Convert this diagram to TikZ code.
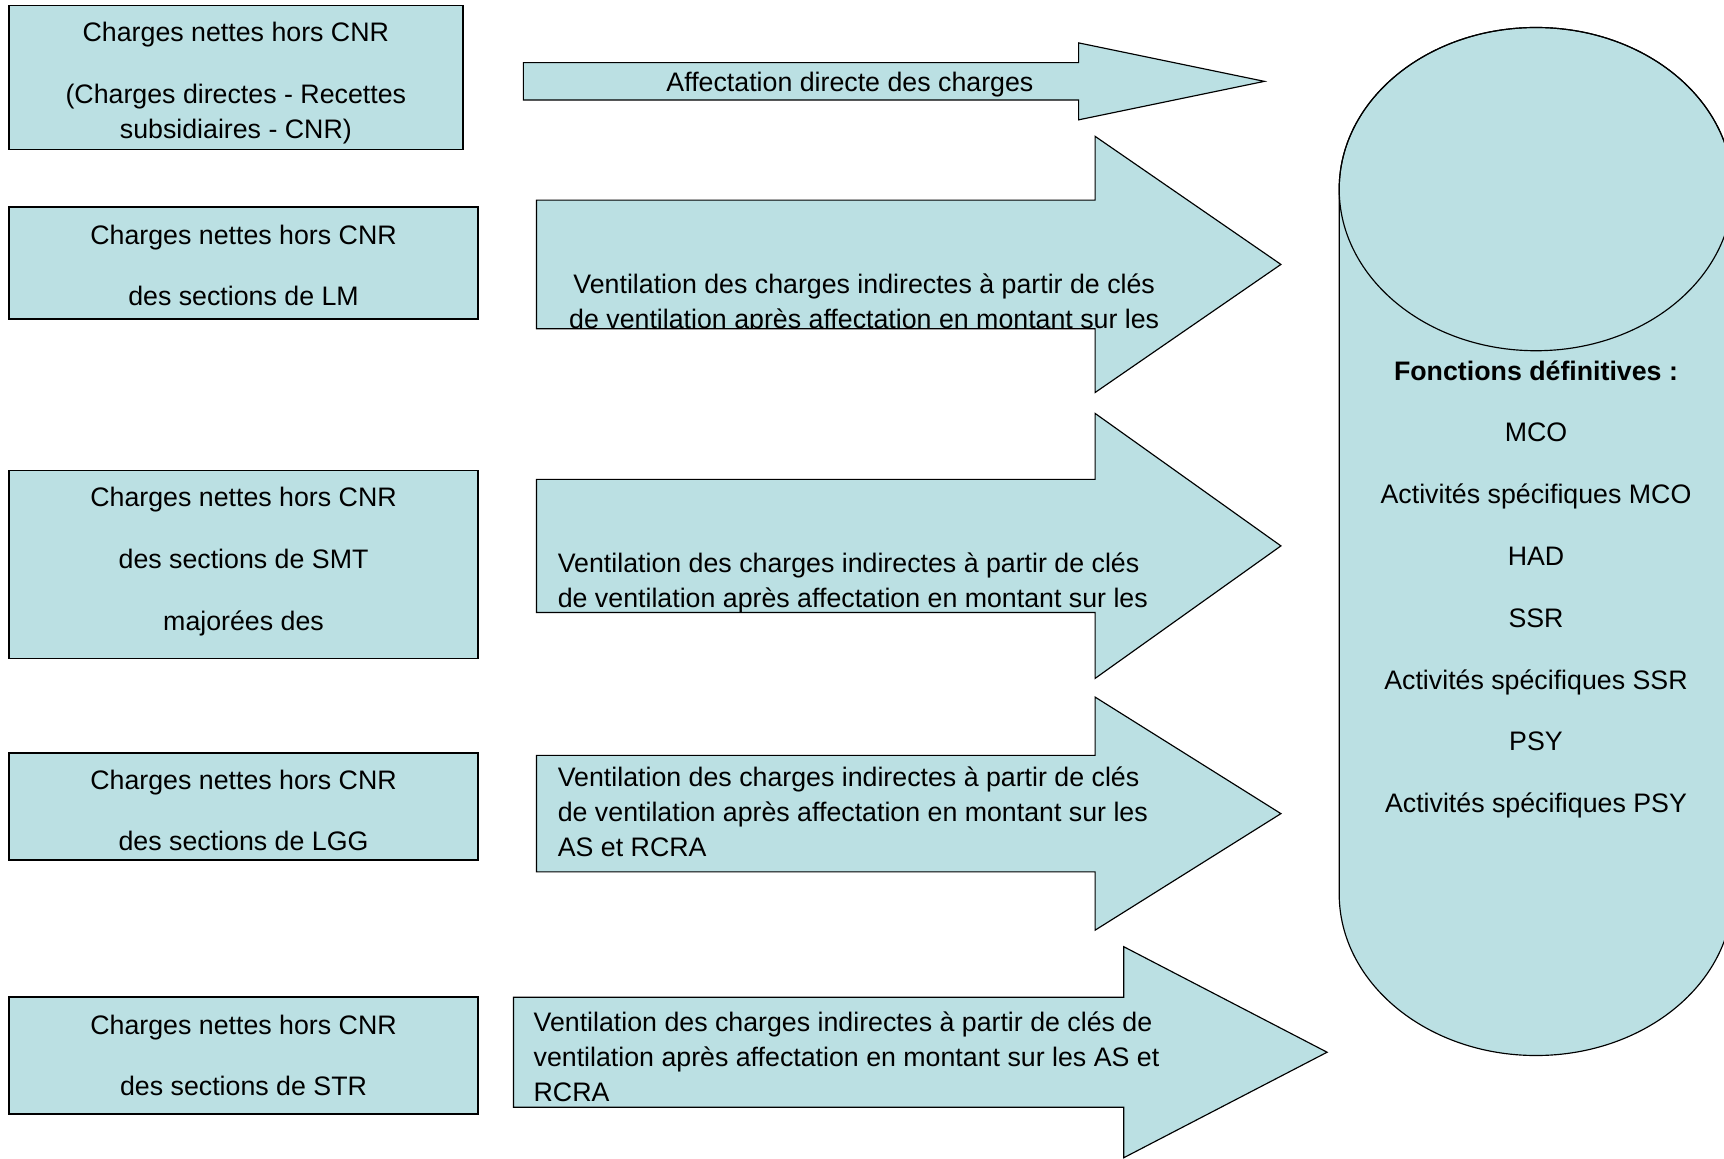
\documentclass[tikz,border=0pt]{standalone}
\usepackage{fontspec}
\setmainfont{Liberation Sans}
\usepackage{xcolor}
\definecolor{bleupale}{RGB}{187,224,227}

\begin{document}
\begin{tikzpicture}[
  x=0.02cm, y=0.02cm,
  txt/.style={font=\fontsize{13.85}{18.1}\selectfont, inner sep=0pt},
  charge/.style={draw, line width=0.9pt, fill=bleupale, minimum width=8.54cm},
  fleche/.style={draw, line width=0.6pt, fill=bleupale, line join=miter}
]
\useasboundingbox (0,0) rectangle (1568,-1054);
\clip (0,0) rectangle (1568,-1054);

\node[charge, minimum width=8.26cm, minimum height=2.62cm] (lm0) at (214.5,-70.5) {};
\node[charge, minimum height=2.04cm] (lm) at (221.5,-239) {};
\node[charge, minimum height=3.42cm] (smt) at (221.5,-513.5) {};
\node[charge, minimum height=1.94cm] (lgg) at (221.5,-733.5) {};
\node[charge, minimum height=2.12cm] (str) at (221.5,-960) {};
\node[txt, align=center] (lm0t) at ([yshift=-2.8pt]lm0.center) {Charges nettes hors CNR\\[13.9pt](Charges directes - Recettes\\subsidiaires - CNR)};
\node[txt, align=center] (lmt) at ([yshift=-1.4pt]lm.center) {Charges nettes hors CNR\\[13.9pt]des sections de LM};
\node[txt, align=center] (smtt) at ([yshift=1.4pt]smt.center) {Charges nettes hors CNR\\[13.9pt]des sections de SMT\\[13.9pt]majorées des};
\node[txt, align=center] (lggt) at ([yshift=-2pt]lgg.center) {Charges nettes hors CNR\\[13.9pt]des sections de LGG};
\node[txt, align=center] (strt) at (str.center) {Charges nettes hors CNR\\[13.9pt]des sections de STR};

\foreach \xa/\xb/\yt/\yb/\hh/\xt in {476/981/57/91/39/1150, 488/996/182/299/124/1165, 488/996/436/557/376/1165, 488/996/687/793/634/1165, 467/1022/907/1007/861/1207}{
  \pgfmathsetmacro\ym{(\yt+\yb)/2}
  \draw[fleche] (\xa,-\yt) -- (\xb,-\yt) -- (\xb,-\hh) -- (\xt,-\ym) -- (\xb,{-2*\ym+\hh}) -- (\xb,-\yb) -- (\xa,-\yb) -- cycle;
}

\begin{scope}
  \clip (476,-57) rectangle (1150,-91);
  \node[txt] (v1) at (773,-77) {Affectation directe des charges};
\end{scope}
\begin{scope}
  \clip (488,-182) rectangle (1165,-299);
  \node[txt, align=center] (v2) at (786,-276.5) {Ventilation des charges indirectes à partir de clés\\de ventilation après affectation en montant sur les};
\end{scope}
\begin{scope}
  \clip (488,-436) rectangle (1165,-557);
  \node[txt, align=left, anchor=west] (v3) at (507,-530) {Ventilation des charges indirectes à partir de clés\\de ventilation après affectation en montant sur les};
\end{scope}
\node[txt, align=left, anchor=west] (v4) at (507,-738.5) {Ventilation des charges indirectes à partir de clés\\de ventilation après affectation en montant sur les\\AS et RCRA};
\node[txt, align=left, anchor=west] (v5) at (485,-961) {Ventilation des charges indirectes à partir de clés de\\ventilation après affectation en montant sur les AS et\\RCRA};

\draw[fleche] (1218,-172) -- (1218,-813) arc[start angle=180, end angle=360, x radius=179, y radius=147] -- (1576,-172) arc[start angle=0, end angle=180, x radius=179, y radius=147] -- cycle;
\draw[line width=0.6pt] (1397,-172) ellipse[x radius=179, y radius=147];
\node[txt, align=center] (fonct) at (1397,-536) {\textbf{Fonctions définitives :}\\[13.9pt]MCO\\[13.9pt]Activités spécifiques MCO\\[13.9pt]HAD\\[13.9pt]SSR\\[13.9pt]Activités spécifiques SSR\\[13.9pt]PSY\\[13.9pt]Activités spécifiques PSY};
\end{tikzpicture}
\end{document}
